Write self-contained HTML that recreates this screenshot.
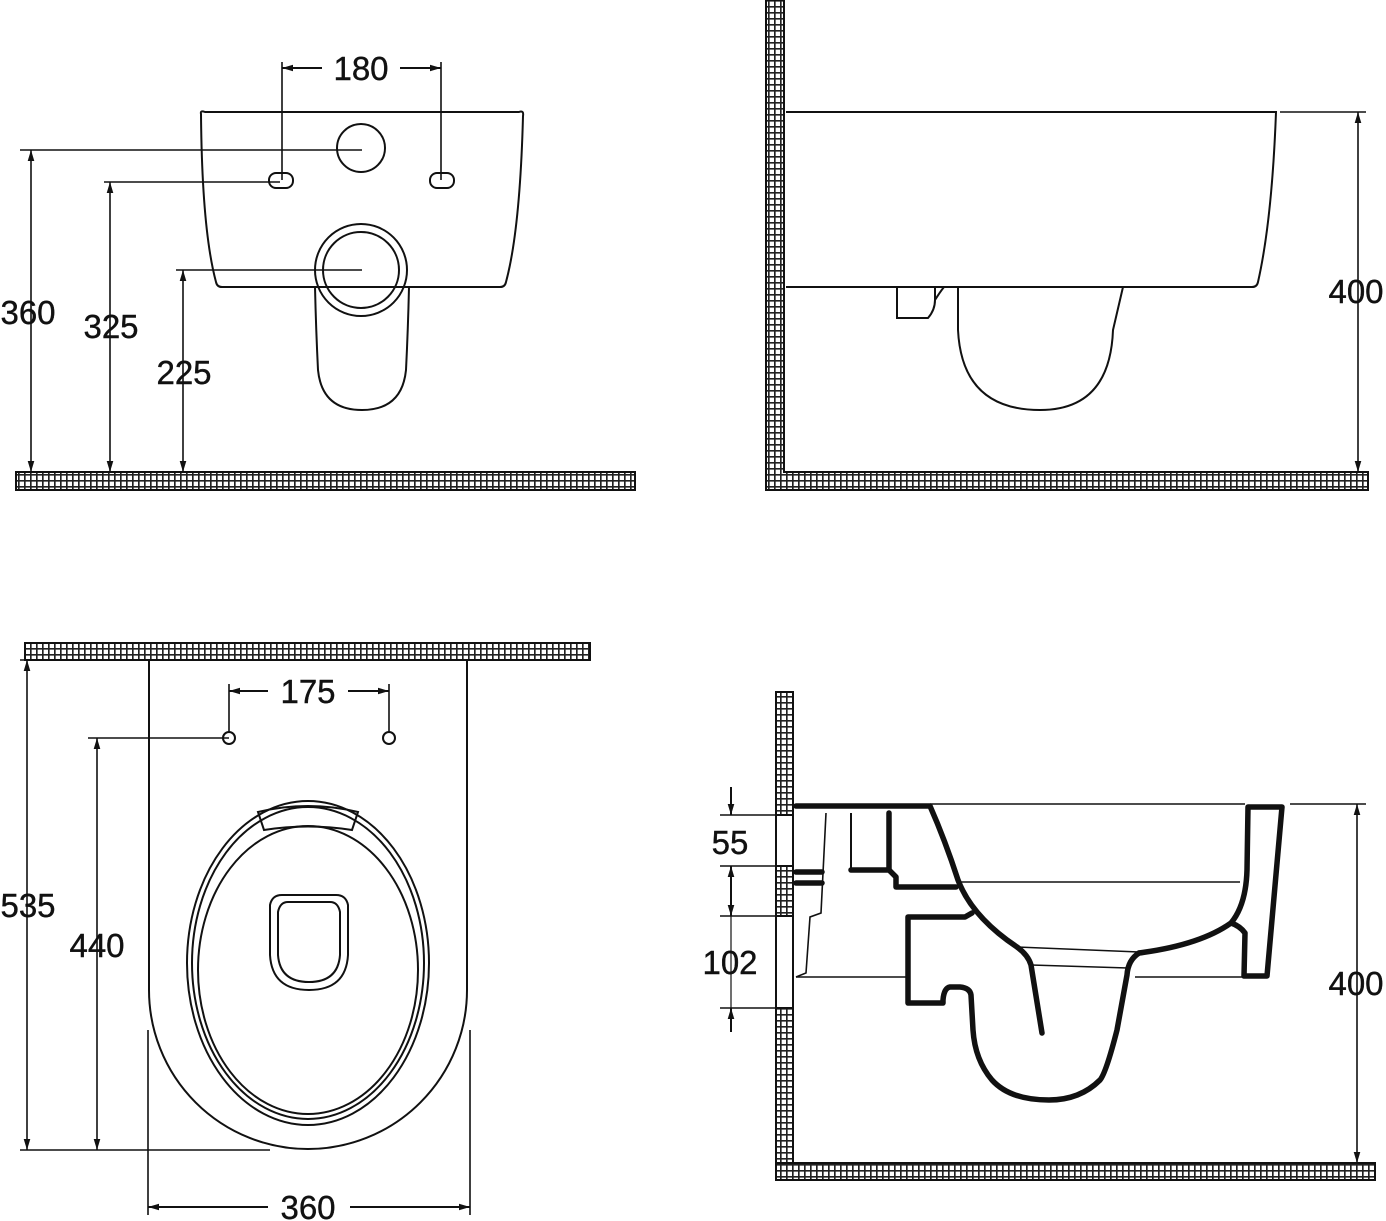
<!DOCTYPE html>
<html><head><meta charset="utf-8"><style>
html,body{margin:0;padding:0;background:#fff}
svg{display:block}
text{font-family:"Liberation Sans",sans-serif;font-size:33px;fill:#111;stroke:#111;stroke-width:0.4}
</style></head><body>
<svg width="1386" height="1221" viewBox="0 0 1386 1221" xmlns="http://www.w3.org/2000/svg">
<defs>
<pattern id="h" width="6" height="6" patternUnits="userSpaceOnUse">
<rect width="6" height="6" fill="#fff"/>
<path d="M0 0.8H6M0.8 0V6" stroke="#222" stroke-width="1.7"/>
</pattern>
<marker id="a" viewBox="0 0 10 10" refX="10" refY="5" markerWidth="11" markerHeight="11" orient="auto-start-reverse" markerUnits="userSpaceOnUse">
<path d="M0 2L10 5L0 8Z" fill="#111"/>
</marker>
</defs>
<g fill="none" stroke="#111" stroke-width="2">
<!-- TOP LEFT -->
<rect x="16" y="472" width="619" height="18" fill="url(#h)" stroke="#111"/>
<path d="M201 114Q200 110 205 112H519Q524 110 523 116Q520 230 506 282Q505 287 500 287H222Q217 287 216 282Q202 230 201 114Z"/>
<path d="M315 287Q316 330 318 370Q322 410 362 410Q402 410 406 370Q408 330 409 287"/>
<circle cx="361" cy="148" r="24"/>
<rect x="269" y="173" width="24" height="15" rx="7"/>
<rect x="430" y="173" width="24" height="15" rx="7"/>
<circle cx="361" cy="270" r="46"/>
<circle cx="361" cy="270" r="38"/>
<path d="M20 150H362M104 182H280M176 270H362" stroke-width="1.6"/>
<path d="M31 150V472" marker-start="url(#a)" marker-end="url(#a)" stroke-width="1.6"/>
<path d="M110 182V472" marker-start="url(#a)" marker-end="url(#a)" stroke-width="1.6"/>
<path d="M183 270V472" marker-start="url(#a)" marker-end="url(#a)" stroke-width="1.6"/>
<path d="M282 62V180M441 62V180" stroke-width="1.6"/>
<path d="M322 68H282" marker-end="url(#a)"/><path d="M400 68H441" marker-end="url(#a)"/>
<!-- TOP RIGHT -->
<path d="M766 0H784V472H1368V490H766Z" fill="url(#h)"/>
<path d="M786 112H1276Q1272 220 1258 282Q1257 287 1252 287H786"/>
<path d="M958 287V330Q962 410 1040 410Q1110 410 1113 330L1123 287"/>
<path d="M897 287V318H928Q935 310 935 300V287M935 300Q940 292 944 287"/>
<path d="M1280 112H1366" stroke-width="1.6"/>
<path d="M1358 112V472" marker-start="url(#a)" marker-end="url(#a)" stroke-width="1.6"/>
<!-- BOTTOM LEFT -->
<rect x="25" y="643" width="565" height="17" fill="url(#h)"/>
<path d="M149 660V990A159 159 0 0 0 467 990V660"/>
<ellipse cx="308" cy="963" rx="121" ry="162"/>
<ellipse cx="308" cy="963" rx="116" ry="156"/>
<path d="M258 812Q308 800 358 812L352 830Q308 823 264 830Z"/>
<ellipse cx="308" cy="970" rx="110" ry="144"/>
<path d="M270 905Q272 895 282 895H336Q346 895 348 905V955Q346 990 309 990Q272 990 270 955Z"/>
<path d="M278 912Q280 902 288 902H330Q338 902 340 912V955Q338 982 309 982Q280 982 278 955Z"/>
<circle cx="229" cy="738" r="6"/><circle cx="389" cy="738" r="6"/>
<path d="M20 660H150M88 738H229M20 1150H270" stroke-width="1.6"/>
<path d="M27 660V1150" marker-start="url(#a)" marker-end="url(#a)" stroke-width="1.6"/>
<path d="M97 738V1150" marker-start="url(#a)" marker-end="url(#a)" stroke-width="1.6"/>
<path d="M229 684V732M389 684V732" stroke-width="1.6"/>
<path d="M268 691H229" marker-end="url(#a)"/><path d="M348 691H389" marker-end="url(#a)"/>
<path d="M148 1030V1215M470 1030V1215" stroke-width="1.6"/>
<path d="M268 1207H148" marker-end="url(#a)"/><path d="M350 1207H470" marker-end="url(#a)"/>
<!-- BOTTOM RIGHT -->
<rect x="776" y="692" width="17" height="123" fill="url(#h)"/>
<rect x="776" y="866" width="17" height="50" fill="url(#h)"/>
<rect x="776" y="1008" width="17" height="155" fill="url(#h)"/>
<path d="M776 815V866M776 916V1008M793 815V1008"/>
<path d="M776 1163H1375V1180H776Z" fill="url(#h)"/>
<path d="M720 815H776M720 866H776M720 916H776M720 1008H776" stroke-width="1.6"/>
<path d="M731 787V815" marker-end="url(#a)"/>
<path d="M731 890V866" marker-end="url(#a)"/>
<path d="M731 890V916" marker-end="url(#a)"/>
<path d="M731 1032V1008" marker-end="url(#a)"/>
<path d="M731 916V1008" stroke-width="1.2"/>
<path d="M930 804H1245M1290 804H1366" stroke-width="1.6"/>
<path d="M1357 804V1163" marker-start="url(#a)" marker-end="url(#a)" stroke-width="1.6"/>
<path d="M960 882H1240M796 977H908M1135 977H1267" stroke-width="1.6"/>
<path d="M1017 947L1139 952M1031 965L1128 968" stroke-width="1.6"/>
<path d="M826 813L821 913L810 917L806 973L796 977" stroke-width="1.6"/>
<g stroke-width="5.5" stroke-linejoin="round" stroke-linecap="round">
<path d="M796 806H930Q945 840 958 880Q972 917 1017 947Q1028 955 1031 965L1042 1033"/>
<path d="M1139 953Q1200 945 1231 923Q1246 905 1247 870L1248 807H1282L1267 976H1244L1245 933Q1240 926 1231 923"/>
<path d="M1139 953Q1128 960 1127 975L1117 1030Q1106 1073 1100 1080Q1080 1100 1049 1100Q1010 1100 992 1080Q975 1060 973 1030L971 995Q970 988 960 987H950Q944 988 943 1000V1003H908V917H965L972 913"/>
<path d="M851 870H889L896 877V887H956"/>
<path d="M889 813V870"/>
<path d="M796 872H822M796 883H822"/>
</g>
<path d="M851 813V870"/>
</g>
<g text-anchor="middle">
<text x="361" y="80">180</text>
<text x="28" y="324">360</text>
<text x="111" y="338">325</text>
<text x="184" y="384">225</text>
<text x="1356" y="303">400</text>
<text x="308" y="703">175</text>
<text x="28" y="917">535</text>
<text x="97" y="957">440</text>
<text x="308" y="1219">360</text>
<text x="730" y="854">55</text>
<text x="730" y="974">102</text>
<text x="1356" y="995">400</text>
</g>
</svg>
</body></html>
